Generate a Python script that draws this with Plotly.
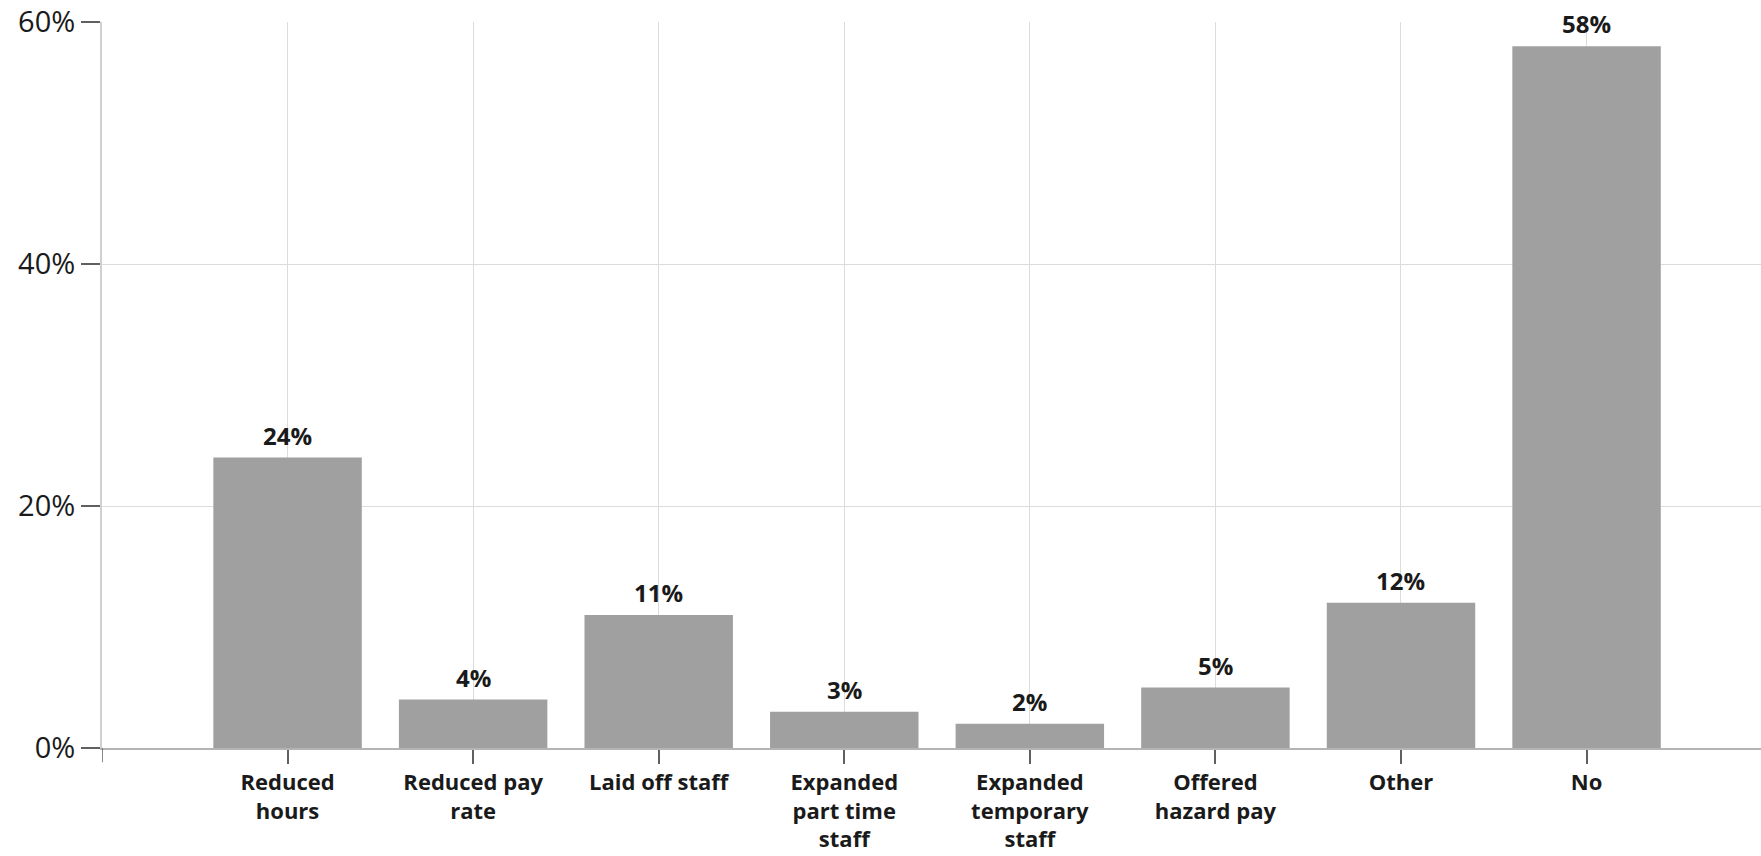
import plotly.graph_objects as go

categories = ["Reduced<br>hours", "Reduced pay<br>rate", "Laid off staff",
              "Expanded<br>part time<br>staff", "Expanded<br>temporary<br>staff",
              "Offered<br>hazard pay", "Other", "No"]
values = [24, 4, 11, 3, 2, 5, 12, 58]
value_labels = ["24%", "4%", "11%", "3%", "2%", "5%", "12%", "58%"]
y_ticks = [0, 20, 40, 60]
y_tick_labels = ["0%", "20%", "40%", "60%"]

FONT = "Open Sans"
BAR = "#a0a0a0"
GRID = "#dcdcdc"
TICK = "#606060"

fig = go.Figure()
fig.add_trace(go.Bar(x=categories, y=values, marker=dict(color=BAR, line=dict(width=0)),
                     width=0.8, hoverinfo="x+y"))

for c, v, t in zip(categories, values, value_labels):
    fig.add_annotation(x=c, y=v, text="<b>%s</b>" % t, showarrow=False,
                       yanchor="bottom", yshift=4,
                       font=dict(family=FONT, size=24, color="#1a1a1a"))

# left-edge tick below the axis
fig.add_shape(type="line", xref="x", yref="paper", x0=-1, x1=-1, y0=0, y1=-0.0195,
              line=dict(color=TICK, width=1.5))

fig.update_layout(
    width=1761, height=856,
    margin=dict(l=102, r=0, t=22, b=108),
    plot_bgcolor="white", paper_bgcolor="white",
    showlegend=False, bargap=0.2,
    font=dict(family=FONT, color="#1a1a1a"),
)
fig.update_xaxes(
    type="category", range=[-1, 7.94], automargin=False,
    showgrid=True, gridcolor=GRID, gridwidth=1,
    showline=True, linecolor="#b4b4b4", linewidth=1.5,
    ticks="outside", ticklen=14, tickcolor=TICK, tickwidth=1.5,
    tickfont=dict(family=FONT, size=22, color="#1a1a1a", weight="bold"),
    tickangle=0, ticklabelstandoff=0,
)
fig.update_yaxes(
    range=[0, 60], tickvals=y_ticks, ticktext=y_tick_labels, automargin=False,
    showgrid=True, gridcolor=GRID, gridwidth=1,
    showline=True, linecolor="#d0d0d0", linewidth=2,
    zeroline=False,
    ticks="outside", ticklen=19, tickcolor=TICK, tickwidth=1.5,
    tickfont=dict(family=FONT, size=29, color="#1a1a1a", weight=500),
)

fig.write_html("out.html", config={"displayModeBar": False},
               post_script="document.body.style.margin='0';document.body.style.overflow='hidden';")
